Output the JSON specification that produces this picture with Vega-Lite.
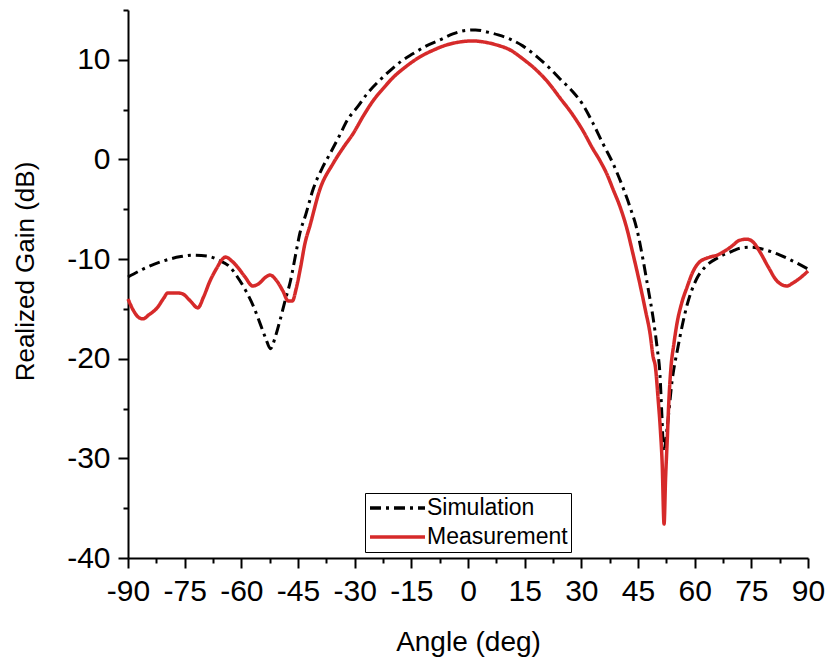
{
  "$schema": "https://vega.github.io/schema/vega-lite/v6.json",
  "width": 680,
  "height": 548,
  "autosize": {"type": "none"},
  "padding": {"left": 128, "top": 10, "right": 19, "bottom": 100},
  "background": "white",
  "config": {"view": {"stroke": null}, "font": "Liberation Sans"},
  "datasets": {
    "sim": [
      {"angle": -90, "gain": -11.8}, {"angle": -86, "gain": -11.0}, {"angle": -83, "gain": -10.5},
      {"angle": -79, "gain": -10.0}, {"angle": -76, "gain": -9.75}, {"angle": -73, "gain": -9.6},
      {"angle": -69, "gain": -9.7}, {"angle": -66, "gain": -10.1}, {"angle": -63, "gain": -10.8},
      {"angle": -60.5, "gain": -12.1}, {"angle": -58.5, "gain": -13.4}, {"angle": -56.5, "gain": -15.0},
      {"angle": -55, "gain": -16.5}, {"angle": -53.5, "gain": -18.0}, {"angle": -52.3, "gain": -19.0},
      {"angle": -51, "gain": -17.8}, {"angle": -49.8, "gain": -16.2}, {"angle": -48.5, "gain": -14.3},
      {"angle": -47, "gain": -12.2}, {"angle": -45.5, "gain": -9.3}, {"angle": -44.5, "gain": -7.4},
      {"angle": -43, "gain": -5.6}, {"angle": -41, "gain": -3.0}, {"angle": -38.5, "gain": -0.8},
      {"angle": -36.5, "gain": 0.6}, {"angle": -34, "gain": 2.4}, {"angle": -32, "gain": 3.9},
      {"angle": -29, "gain": 5.4}, {"angle": -26.7, "gain": 6.6}, {"angle": -23.5, "gain": 7.9},
      {"angle": -20.7, "gain": 8.9}, {"angle": -17.5, "gain": 9.9}, {"angle": -14.6, "gain": 10.6},
      {"angle": -11, "gain": 11.4}, {"angle": -7.4, "gain": 12.0}, {"angle": -4, "gain": 12.6},
      {"angle": -0.5, "gain": 12.95}, {"angle": 2, "gain": 13.0}, {"angle": 5, "gain": 12.8},
      {"angle": 8, "gain": 12.5}, {"angle": 11, "gain": 12.1}, {"angle": 14.5, "gain": 11.4},
      {"angle": 18.3, "gain": 10.3}, {"angle": 21.5, "gain": 9.2}, {"angle": 24.3, "gain": 8.1},
      {"angle": 27.5, "gain": 6.9}, {"angle": 30.4, "gain": 5.5}, {"angle": 33, "gain": 3.7},
      {"angle": 35.7, "gain": 1.6}, {"angle": 38.5, "gain": -0.5}, {"angle": 41, "gain": -2.8},
      {"angle": 43, "gain": -4.9}, {"angle": 44.7, "gain": -7.0}, {"angle": 46.3, "gain": -10.0},
      {"angle": 47.7, "gain": -13.0}, {"angle": 49, "gain": -15.9}, {"angle": 50.1, "gain": -19.0},
      {"angle": 50.8, "gain": -21.5}, {"angle": 51.3, "gain": -25.5}, {"angle": 51.8, "gain": -29.3},
      {"angle": 52.7, "gain": -27.0}, {"angle": 54, "gain": -22.3}, {"angle": 55.6, "gain": -18.8},
      {"angle": 58, "gain": -14.6}, {"angle": 60.5, "gain": -12.0}, {"angle": 63, "gain": -10.7},
      {"angle": 66, "gain": -9.9}, {"angle": 70, "gain": -9.2}, {"angle": 72, "gain": -8.9},
      {"angle": 75, "gain": -8.8}, {"angle": 78, "gain": -9.0}, {"angle": 82.6, "gain": -9.6},
      {"angle": 86, "gain": -10.2}, {"angle": 90, "gain": -11.0}
    ],
    "meas": [
      {"angle": -90, "gain": -14.0}, {"angle": -88.5, "gain": -15.2}, {"angle": -87, "gain": -15.9},
      {"angle": -86, "gain": -16.0}, {"angle": -84.5, "gain": -15.6}, {"angle": -82.3, "gain": -14.9},
      {"angle": -80.5, "gain": -13.9}, {"angle": -79.5, "gain": -13.4}, {"angle": -76.8, "gain": -13.4},
      {"angle": -75.5, "gain": -13.5}, {"angle": -73.5, "gain": -14.2}, {"angle": -71.5, "gain": -14.9},
      {"angle": -70, "gain": -13.8}, {"angle": -68.3, "gain": -12.2}, {"angle": -66.5, "gain": -10.9},
      {"angle": -65, "gain": -10.0}, {"angle": -64.2, "gain": -9.8}, {"angle": -62.5, "gain": -10.2},
      {"angle": -61, "gain": -10.8}, {"angle": -59, "gain": -11.8}, {"angle": -57, "gain": -12.7},
      {"angle": -55.5, "gain": -12.5}, {"angle": -53.5, "gain": -11.8}, {"angle": -52.4, "gain": -11.6},
      {"angle": -50.6, "gain": -12.2}, {"angle": -49, "gain": -13.2}, {"angle": -47.6, "gain": -14.2},
      {"angle": -46.5, "gain": -14.2}, {"angle": -45.5, "gain": -13.0}, {"angle": -44.3, "gain": -10.8},
      {"angle": -43.2, "gain": -8.5}, {"angle": -41.8, "gain": -6.6}, {"angle": -39.2, "gain": -3.0},
      {"angle": -35.7, "gain": -0.4}, {"angle": -33, "gain": 1.2}, {"angle": -30.4, "gain": 2.6},
      {"angle": -27.5, "gain": 4.5}, {"angle": -25.1, "gain": 5.9}, {"angle": -22.5, "gain": 7.1},
      {"angle": -19.9, "gain": 8.2}, {"angle": -16.5, "gain": 9.3}, {"angle": -12.7, "gain": 10.3},
      {"angle": -9, "gain": 11.0}, {"angle": -5.6, "gain": 11.5}, {"angle": -2, "gain": 11.8},
      {"angle": 1.3, "gain": 11.9}, {"angle": 4, "gain": 11.8}, {"angle": 7.5, "gain": 11.5},
      {"angle": 11.1, "gain": 11.0}, {"angle": 14.5, "gain": 10.1}, {"angle": 18.3, "gain": 8.9},
      {"angle": 21.5, "gain": 7.6}, {"angle": 24.3, "gain": 6.2}, {"angle": 27.5, "gain": 4.6},
      {"angle": 30.4, "gain": 2.9}, {"angle": 33, "gain": 1.1}, {"angle": 34.9, "gain": -0.1},
      {"angle": 36.8, "gain": -1.5}, {"angle": 38.4, "gain": -3.0}, {"angle": 40.2, "gain": -4.7},
      {"angle": 42.1, "gain": -7.0}, {"angle": 43.5, "gain": -9.2}, {"angle": 45.5, "gain": -12.5},
      {"angle": 47, "gain": -15.2}, {"angle": 48.2, "gain": -17.5}, {"angle": 49, "gain": -19.8},
      {"angle": 49.6, "gain": -20.8}, {"angle": 50.3, "gain": -23.9}, {"angle": 50.9, "gain": -27.0},
      {"angle": 51.4, "gain": -30.5}, {"angle": 51.9, "gain": -36.6}, {"angle": 52.3, "gain": -32.0},
      {"angle": 52.7, "gain": -28.5}, {"angle": 53.2, "gain": -24.0}, {"angle": 53.7, "gain": -21.0},
      {"angle": 54.5, "gain": -18.5}, {"angle": 55.3, "gain": -16.5}, {"angle": 56.5, "gain": -14.5},
      {"angle": 58, "gain": -12.8}, {"angle": 59.5, "gain": -11.3}, {"angle": 61, "gain": -10.4},
      {"angle": 64, "gain": -9.8}, {"angle": 66, "gain": -9.6}, {"angle": 67.5, "gain": -9.3},
      {"angle": 69.5, "gain": -8.8}, {"angle": 72, "gain": -8.1}, {"angle": 73.8, "gain": -8.0},
      {"angle": 75.5, "gain": -8.3}, {"angle": 77.3, "gain": -9.3}, {"angle": 79.5, "gain": -10.8},
      {"angle": 81.8, "gain": -12.2}, {"angle": 84.4, "gain": -12.7}, {"angle": 86, "gain": -12.4},
      {"angle": 87.9, "gain": -11.9}, {"angle": 90, "gain": -11.2}
    ]
  },
  "layer": [
    {
      "data": {"name": "sim"},
      "mark": {"type": "line", "interpolate": "monotone", "opacity": 0},
      "encoding": {
        "x": {"field": "angle", "type": "quantitative", "scale": {"domain": [-90, 90], "nice": false, "zero": false},
          "axis": {"orient": "bottom", "values": [-82.5, -67.5, -52.5, -37.5, -22.5, -7.5, 7.5, 22.5, 37.5, 52.5, 67.5, 82.5],
            "labels": false, "domain": false, "grid": false, "tickSize": 5, "tickWidth": 2, "tickColor": "black", "title": null}},
        "y": {"field": "gain", "type": "quantitative", "scale": {"domain": [-40, 15], "nice": false, "zero": false},
          "axis": {"orient": "left", "values": [-35, -25, -15, -5, 5, 15],
            "labels": false, "domain": false, "grid": false, "tickSize": 5, "tickWidth": 2, "tickColor": "black", "title": null}}
      }
    },
    {
      "data": {"name": "sim"},
      "transform": [{"calculate": "'Simulation'", "as": "series"}],
      "mark": {"type": "line", "interpolate": "monotone", "strokeWidth": 3, "strokeCap": "butt"},
      "encoding": {
        "x": {"field": "angle", "type": "quantitative", "scale": {"domain": [-90, 90], "nice": false, "zero": false},
          "axis": {"orient": "bottom", "values": [-90, -75, -60, -45, -30, -15, 0, 15, 30, 45, 60, 75, 90],
            "labelExpr": "'' + datum.value", "labelFontSize": 30, "labelColor": "black", "labelPadding": 8,
            "labelFlush": false, "labelOverlap": false, "labelFont": "Liberation Sans",
            "domain": true, "domainColor": "black", "domainWidth": 2, "grid": false,
            "tickSize": 10, "tickWidth": 2, "tickColor": "black",
            "title": "Angle (deg)", "titleFontSize": 28, "titleFontWeight": "normal", "titleColor": "black",
            "titleFont": "Liberation Sans", "titleY": 92, "titleBaseline": "alphabetic"}},
        "y": {"field": "gain", "type": "quantitative", "scale": {"domain": [-40, 15], "nice": false, "zero": false},
          "axis": {"orient": "left", "values": [-40, -30, -20, -10, 0, 10],
            "labelExpr": "'' + datum.value", "labelFontSize": 30, "labelColor": "black", "labelPadding": 8,
            "labelFlush": false, "labelOverlap": false, "labelFont": "Liberation Sans",
            "domain": true, "domainColor": "black", "domainWidth": 2, "grid": false,
            "tickSize": 10, "tickWidth": 2, "tickColor": "black",
            "title": "Realized Gain (dB)", "titleFontSize": 26, "titleFontWeight": "normal", "titleColor": "black",
            "titleFont": "Liberation Sans", "titleX": -95, "titleY": 261, "titleAngle": -90,
            "titleAlign": "center", "titleBaseline": "alphabetic"}},
        "color": {"field": "series", "type": "nominal",
          "scale": {"domain": ["Simulation", "Measurement"], "range": ["black", "#d62a2a"]},
          "legend": {"orient": "none", "legendX": 237, "legendY": 483, "title": null, "symbolType": "stroke",
            "symbolSize": 3025, "symbolStrokeWidth": 3.5, "labelFontSize": 23, "labelFont": "Liberation Sans",
            "labelColor": "black", "labelOffset": 0, "strokeColor": "black", "fillColor": "white",
            "padding": 3, "rowPadding": 5, "clipHeight": 24}},
        "strokeDash": {"field": "series", "type": "nominal",
          "scale": {"domain": ["Simulation", "Measurement"], "range": [[11, 5, 3, 5], [1, 0]]},
          "legend": {"orient": "none", "legendX": 237, "legendY": 483, "title": null, "symbolType": "stroke",
            "symbolSize": 3025, "symbolStrokeWidth": 3.5, "labelFontSize": 23, "labelFont": "Liberation Sans",
            "labelColor": "black", "labelOffset": 0, "strokeColor": "black", "fillColor": "white",
            "padding": 3, "rowPadding": 5, "clipHeight": 24}}
      }
    },
    {
      "data": {"name": "meas"},
      "transform": [{"calculate": "'Measurement'", "as": "series"}],
      "mark": {"type": "line", "interpolate": "monotone", "strokeWidth": 3.5},
      "encoding": {
        "x": {"field": "angle", "type": "quantitative", "axis": null},
        "y": {"field": "gain", "type": "quantitative", "axis": null},
        "color": {"field": "series", "type": "nominal"},
        "strokeDash": {"field": "series", "type": "nominal"}
      }
    }
  ],
  "resolve": {"axis": {"x": "independent", "y": "independent"}}
}
